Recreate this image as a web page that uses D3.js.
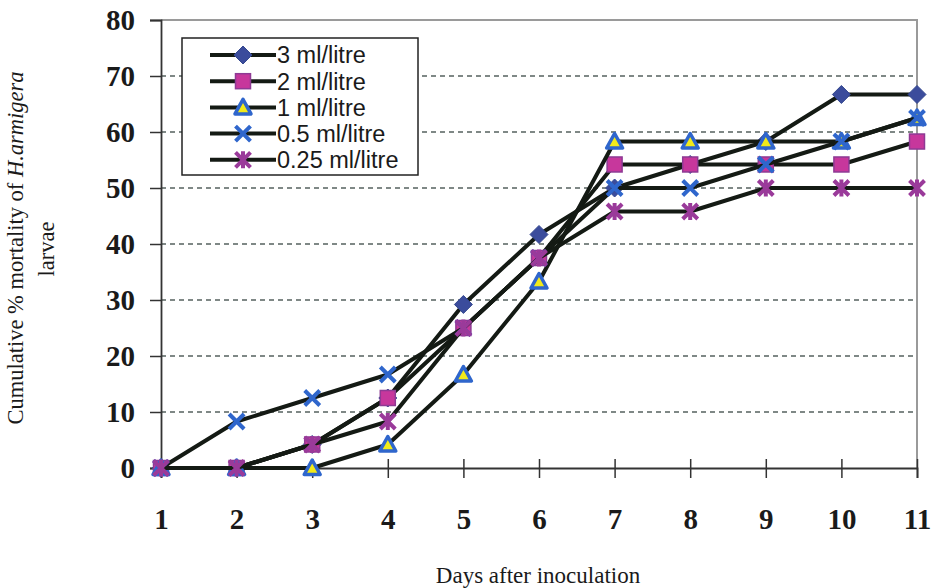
<!DOCTYPE html>
<html>
<head>
<meta charset="utf-8">
<script src="https://cdn.jsdelivr.net/npm/d3@7"></script>
<style>
  body { margin: 0; background: #fff; }
  svg { display: block; }
</style>
</head>
<body>
<svg width="935" height="588"></svg>
<script>
// Data
var days = [1, 2, 3, 4, 5, 6, 7, 8, 9, 10, 11];
var seriesNames = ["3 ml/litre", "2 ml/litre", "1 ml/litre", "0.5 ml/litre", "0.25 ml/litre"];
var dose3 = [0, 0, 4.2, 12.5, 29.2, 41.7, 50, 54.2, 58.3, 66.7, 66.7];
var dose2 = [0, 0, 4.2, 12.5, 25, 37.5, 54.2, 54.2, 54.2, 54.2, 58.3];
var dose1 = [0, 0, 0, 4.2, 16.7, 33.3, 58.3, 58.3, 58.3, 58.3, 62.5];
var dose05 = [0, 8.3, 12.5, 16.7, 25, 37.5, 50, 50, 54.2, 58.3, 62.5];
var dose025 = [0, 0, 4.2, 8.3, 25, 37.5, 45.8, 45.8, 50, 50, 50];
var yTicks = [0, 10, 20, 30, 40, 50, 60, 70, 80];

var allSeries = [dose3, dose2, dose1, dose05, dose025];
var markers = ["diamond", "square", "triangle", "x", "star"];

var svg = d3.select("svg");

var plotLeft = 161, plotRight = 917, plotTop = 20, plotBottom = 468;

var x = d3.scalePoint().domain(days).range([plotLeft, plotRight]);
var y = d3.scaleLinear().domain([0, 80]).range([plotBottom, plotTop]);

var serif = "'Liberation Serif', 'Times New Roman', serif";

// gridlines
svg.append("g")
    .selectAll("line")
    .data(yTicks.filter(d => d > 0 && d < 80))
    .enter().append("line")
    .attr("x1", plotLeft).attr("x2", plotRight)
    .attr("y1", d => y(d)).attr("y2", d => y(d))
    .attr("stroke", "#56625f")
    .attr("stroke-width", 1.3)
    .attr("stroke-dasharray", "5,4");

// plot border (top and right)
svg.append("path")
    .attr("d", `M${plotLeft},${plotTop}H${plotRight}V${plotBottom}`)
    .attr("fill", "none")
    .attr("stroke", "#9a9a9a")
    .attr("stroke-width", 2);

// y axis
var yAxis = svg.append("g")
    .attr("transform", `translate(${plotLeft},0)`)
    .call(d3.axisLeft(y).tickValues(yTicks).tickSize(11).tickPadding(15));
yAxis.select(".domain").attr("stroke", "#333").attr("stroke-width", 1.8);
yAxis.selectAll(".tick line").attr("stroke", "#333").attr("stroke-width", 1.5);
yAxis.selectAll("text")
    .attr("font-family", serif)
    .attr("font-weight", "bold")
    .attr("font-size", 29)
    .attr("fill", "#1a1a1a")
    .attr("dy", "0.34em");

// x axis
var xAxis = svg.append("g")
    .attr("transform", `translate(0,${plotBottom})`)
    .call(d3.axisBottom(x).tickSize(10).tickPadding(30));
xAxis.select(".domain").attr("stroke", "#333").attr("stroke-width", 1.8);
xAxis.selectAll(".tick line").attr("y1", -9).attr("stroke", "#333").attr("stroke-width", 1.5);
xAxis.selectAll("text")
    .attr("font-family", serif)
    .attr("font-weight", "bold")
    .attr("font-size", 29)
    .attr("fill", "#1a1a1a");

// axis titles
svg.append("text")
    .attr("x", 538).attr("y", 583)
    .attr("text-anchor", "middle")
    .attr("font-family", serif)
    .attr("font-size", 23)
    .attr("fill", "#1a1a1a")
    .text("Days after inoculation");

var yt = svg.append("text")
    .attr("transform", "translate(23,248) rotate(-90)")
    .attr("text-anchor", "middle")
    .attr("font-family", serif)
    .attr("font-size", 22.5)
    .attr("fill", "#1a1a1a");
yt.append("tspan").text("Cumulative % mortality of ");
yt.append("tspan").attr("font-style", "italic").text("H.armigera");
svg.append("text")
    .attr("transform", "translate(54,249) rotate(-90)")
    .attr("text-anchor", "middle")
    .attr("font-family", serif)
    .attr("font-size", 22.5)
    .attr("fill", "#1a1a1a")
    .text("larvae");

// marker drawing
function drawMarker(g, type) {
    if (type === "diamond") {
        g.append("path").attr("d", "M0,-9L9,0L0,9L-9,0Z")
            .attr("fill", "#3b4c9c").attr("stroke", "#34488f").attr("stroke-width", 1);
    } else if (type === "square") {
        g.append("rect").attr("x", -7.5).attr("y", -7.5).attr("width", 15).attr("height", 15)
            .attr("fill", "#c7379c").attr("stroke", "#8e3a94").attr("stroke-width", 1.5);
    } else if (type === "triangle") {
        g.append("path").attr("d", "M0,-8L8,6.5L-8,6.5Z")
            .attr("fill", "#f2ea1a").attr("stroke", "#2f66cc").attr("stroke-width", 3.5)
            .attr("stroke-linejoin", "round");
    } else if (type === "x") {
        g.append("path").attr("d", "M-7.5,-7.5L7.5,7.5M7.5,-7.5L-7.5,7.5")
            .attr("fill", "none").attr("stroke", "#2f66cc").attr("stroke-width", 4);
    } else {
        g.append("path").attr("d", "M-7.5,-7.5L7.5,7.5M7.5,-7.5L-7.5,7.5M0,-8.5V8.5")
            .attr("fill", "none").attr("stroke", "#9a3a9a").attr("stroke-width", 4);
    }
}

var line = d3.line()
    .x((d, i) => x(days[i]))
    .y(d => y(d));

allSeries.forEach(function (vals, si) {
    var g = svg.append("g").attr("class", "series");
    g.append("path")
        .datum(vals)
        .attr("fill", "none")
        .attr("stroke", "#141a14")
        .attr("stroke-width", 4)
        .attr("stroke-linejoin", "round")
        .attr("d", line);
    vals.forEach(function (v, i) {
        var mg = g.append("g").attr("transform", `translate(${x(days[i])},${y(v)})`);
        drawMarker(mg, markers[si]);
    });
});

// legend
var legend = svg.append("g");
legend.append("rect")
    .attr("x", 182).attr("y", 38).attr("width", 236).attr("height", 137)
    .attr("fill", "#fff").attr("stroke", "#222").attr("stroke-width", 1.5);
seriesNames.forEach(function (name, i) {
    var ly = 55 + i * 26.2;
    legend.append("line")
        .attr("x1", 210).attr("x2", 276).attr("y1", ly).attr("y2", ly)
        .attr("stroke", "#141a14").attr("stroke-width", 4);
    drawMarker(legend.append("g").attr("transform", `translate(243,${ly})`), markers[i]);
    legend.append("text")
        .attr("x", 277).attr("y", ly).attr("dy", "0.36em")
        .attr("font-family", "'Liberation Sans', Arial, sans-serif")
        .attr("font-size", 23.5)
        .attr("fill", "#1a1a1a")
        .text(name);
});
</script>
</body>
</html>
